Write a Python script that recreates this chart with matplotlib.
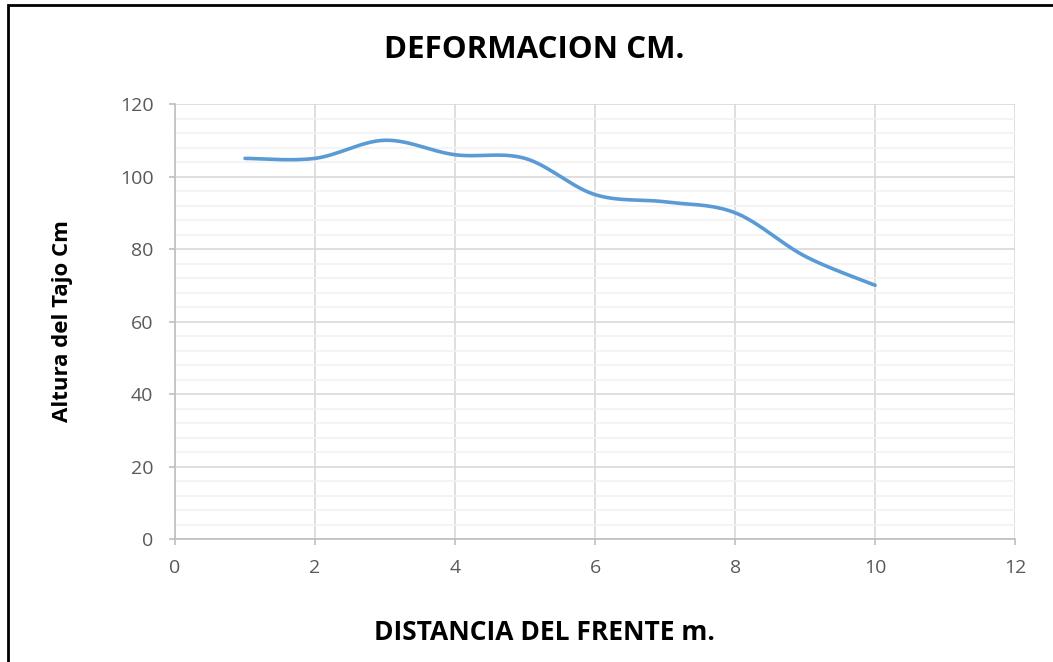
import numpy as np
import matplotlib
matplotlib.use('Agg')
import matplotlib.pyplot as plt
from matplotlib.patches import Rectangle

plt.rcParams['font.family'] = ['Open Sans', 'DejaVu Sans']

# data
distancia = [1, 2, 3, 4, 5, 6, 7, 8, 9, 10]
altura = [105, 105, 110, 106, 105, 95, 93, 90, 78, 70]


def smooth(xs, ys, n=30):
    # Catmull-Rom style smoothing like Excel's smoothed line
    xs = np.asarray(xs, float)
    ys = np.asarray(ys, float)
    px = np.concatenate([[xs[0]], xs, [xs[-1]]])
    py = np.concatenate([[ys[0]], ys, [ys[-1]]])
    ox, oy = [], []
    t = np.linspace(0, 1, n)
    for i in range(1, len(px) - 2):
        p0, p1, p2, p3 = [np.array([px[j], py[j]]) for j in (i - 1, i, i + 1, i + 2)]
        c1 = p1 + (p2 - p0) / 6
        c2 = p2 - (p3 - p1) / 6
        pts = ((1 - t)[:, None] ** 3 * p1 + 3 * ((1 - t) ** 2 * t)[:, None] * c1
               + 3 * ((1 - t) * t ** 2)[:, None] * c2 + (t ** 3)[:, None] * p2)
        ox.extend(pts[:, 0])
        oy.extend(pts[:, 1])
    return ox, oy


fig = plt.figure(figsize=(10.53, 6.62), dpi=100)
ax = fig.add_axes([0.1662, 0.1858, 0.7978, 0.6571])

sx, sy = smooth(distancia, altura)
ax.plot(sx, sy, color='#5b9bd5', lw=2.6, solid_capstyle='round', zorder=3)

ax.set_xlim(0, 12)
ax.set_ylim(0, 120)
ax.set_xticks(range(0, 13, 2))
ax.set_yticks(range(0, 121, 20))
ax.set_yticks(range(0, 121, 4), minor=True)
ax.grid(which='major', color='#d9d9d9', lw=1.2)
ax.grid(which='minor', axis='y', color='#f2f2f2', lw=1.2)
ax.set_axisbelow(True)
for s in ['top', 'right']:
    ax.spines[s].set_visible(False)
for s in ['left', 'bottom']:
    ax.spines[s].set_color('#bfbfbf')
    ax.spines[s].set_linewidth(1.2)
ax.tick_params(which='major', colors='#bfbfbf', labelcolor='#595959', labelsize=14, length=4.5, width=1.2)
ax.tick_params(which='minor', length=0)
ax.tick_params(axis='x', pad=10)
ax.tick_params(axis='y', pad=11)

fig.text(0.507, 0.924, 'DEFORMACION CM.', ha='center', va='center',
         fontsize=22.5, fontweight='bold')
fig.text(0.517, 0.045, 'DISTANCIA DEL FRENTE m.', ha='center', va='center',
         fontsize=19, fontweight='bold')
fig.text(0.059, 0.5 * (0.1858 + 0.8429), 'Altura del Tajo Cm', ha='center', va='center',
         rotation=90, fontsize=16, fontweight='bold')

fig.patches.append(Rectangle((0.008, -0.01), 1.5, 1.002, transform=fig.transFigure,
                             fill=False, edgecolor='black', lw=2))

fig.savefig('out.png', dpi=100)
